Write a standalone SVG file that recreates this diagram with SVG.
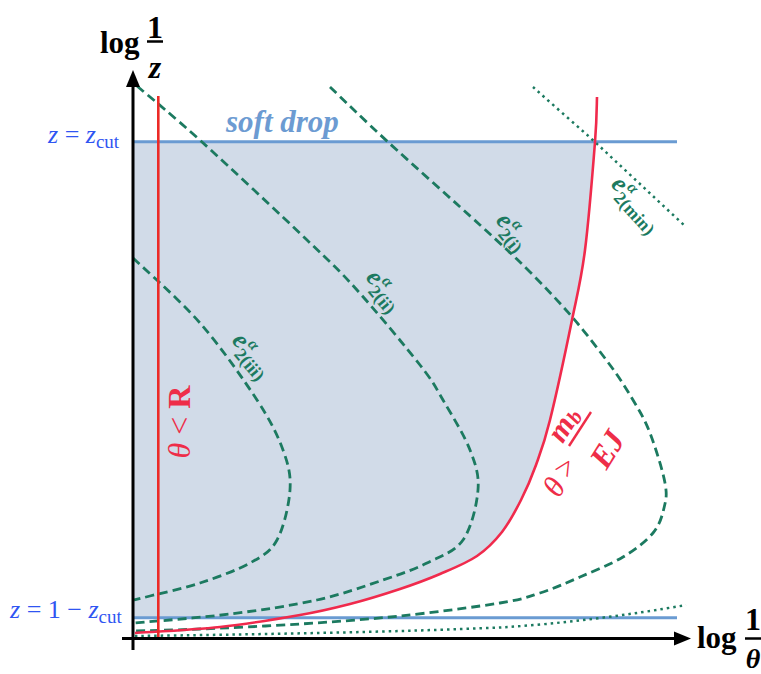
<svg xmlns="http://www.w3.org/2000/svg" width="761" height="674" viewBox="0 0 761 674">
<style>
.ax{stroke:#000;stroke-width:3;fill:none}
.blue{stroke:#6a9bd2;stroke-width:3;fill:none}
.dash{stroke:#1c7a60;stroke-width:2.8;fill:none;stroke-dasharray:9 5}
.dot{stroke:#1c7a60;stroke-width:2.5;fill:none;stroke-dasharray:2.5 4}
.redc{stroke:#f02a4c;stroke-width:2.6;fill:none}
.redv{stroke:#ec2a26;stroke-width:2.6;fill:none}
.axl{font-family:"Liberation Serif",serif;font-weight:bold;fill:#000}
.bl{font-family:"Liberation Serif",serif;fill:#2f55f2;font-size:26px}
.gl{font-family:"Liberation Serif",serif;fill:#1c7a60;font-weight:bold}
.rl{font-family:"Liberation Serif",serif;fill:#ee2d48}
</style>
<g id="region">
<path d="M133 142 L595 142 C593,167.5 588.8,220.3 585,250 C581.2,279.7 577.8,291.7 572,320 C566.2,348.3 556,395.8 550,420 C544,444.2 540.8,451.7 536,465 C531.2,478.3 526.7,488.8 521,500 C515.3,511.2 509.3,522.7 502,532 C494.7,541.3 487.3,549 477,556 C466.7,563 452.8,568.5 440,574 C427.2,579.5 415,584 400,589 C385,594 366.7,599.7 350,604 C333.3,608.3 321.7,611.2 300,615 L281 618 L133 618 Z" fill="#d1dbe8"/>
</g>
<g id="connectors">
<line class="blue" x1="133" y1="141.7" x2="677" y2="141.7"/>
<line class="blue" x1="133" y1="617.7" x2="677" y2="617.7"/>
<path class="dash" d="M133,258 C144.2,268.8 179.3,299.3 200,323 C220.7,346.7 243.2,378.8 257,400 C270.8,421.2 277.5,435 283,450 C288.5,465 291,475 290,490 C289,505 283.7,527.8 277,540 C270.3,552.2 262.8,555.8 250,563 C237.2,570.2 216.7,577.5 200,583 C183.3,588.5 161,593.2 150,596 C139,598.8 136.7,599.3 134,600"/>
<path class="dash" d="M137,86 C147.8,95.3 173.7,116.3 202,142 C230.3,167.7 281.2,215.3 307,240 C332.8,264.7 338.2,269.2 357,290 C375.8,310.8 405.7,346.7 420,365 C434.3,383.3 434.7,385.8 443,400 C451.3,414.2 464.2,435 470,450 C475.8,465 479.2,475 478,490 C476.8,505 471.5,527.8 463,540 C454.5,552.2 440.3,556.3 427,563 C413.7,569.7 401.3,573.8 383,580 C364.7,586.2 342.5,594.3 317,600 C291.5,605.7 260.3,610.2 230,614 C199.7,617.8 150.8,621.5 135,623"/>
<path class="dash" d="M330,87 C339.7,96.2 363,119 388,142 C413,165 456.3,203.3 480,225 C503.7,246.7 514.5,256.5 530,272 C545.5,287.5 559.7,302.5 573,318 C586.3,333.5 599.8,351.3 610,365 C620.2,378.7 626.3,388.7 633,400 C639.7,411.3 644.7,419.2 650,433 C655.3,446.8 662.7,470.5 665,483 C667.3,495.5 666,499.7 664,508 C662,516.3 659.8,524.8 653,533 C646.2,541.2 635.2,549.7 623,557 C610.8,564.3 593.8,571 580,577 C566.2,583 553.3,588.7 540,593 C526.7,597.3 523.3,599.2 500,603 C476.7,606.8 433.3,612.5 400,616 C366.7,619.5 333.3,621.8 300,624 C266.7,626.2 227.5,627.8 200,629 C172.5,630.2 145.8,630.7 135,631"/>
<path class="dot" d="M533,87 C553,105 575,124 595,142 C625,170 655,198 686,227"/>
<path class="dot" d="M135,636 C250,634.5 400,632 500,627.5 C560,624 630,615 686,605"/>
<path class="redc" d="M597,97 C596.7,104.5 597,116.5 595,142 C593,167.5 588.8,220.3 585,250 C581.2,279.7 577.8,291.7 572,320 C566.2,348.3 556,395.8 550,420 C544,444.2 540.8,451.7 536,465 C531.2,478.3 526.7,488.8 521,500 C515.3,511.2 509.3,522.7 502,532 C494.7,541.3 487.3,549 477,556 C466.7,563 452.8,568.5 440,574 C427.2,579.5 415,584 400,589 C385,594 366.7,599.7 350,604 C333.3,608.3 321.7,611.2 300,615 C278.3,618.8 247.5,624 220,627 C192.5,630 149.2,632 135,633"/>
<line class="redv" x1="158.3" y1="96" x2="158.3" y2="639"/>
</g>
<g id="axes">
<line class="ax" x1="133" y1="650" x2="133" y2="84"/>
<polygon points="133,70 126,87 140,87" fill="#000"/>
<line class="ax" x1="122" y1="638.5" x2="678" y2="638.5"/>
<polygon points="691,638.5 674,631.5 674,645.5" fill="#000"/>
</g>
<g id="ylabel">
<text class="axl" x="100" y="53" font-size="31">log</text>
<text class="axl" x="155" y="38" font-size="32" text-anchor="middle">1</text>
<line x1="147" y1="41.5" x2="163" y2="41.5" stroke="#000" stroke-width="2.5"/>
<text class="axl" x="155" y="78" font-size="32" text-anchor="middle" font-style="italic">z</text>
</g>
<g id="xlabel">
<text class="axl" x="697" y="648" font-size="31">log</text>
<text class="axl" x="753" y="630" font-size="32" text-anchor="middle">1</text>
<line x1="745" y1="638.5" x2="761" y2="638.5" stroke="#000" stroke-width="2.5"/>
<text class="axl" x="753" y="668" font-size="28" text-anchor="middle" font-style="italic" font-weight="normal">θ</text>
</g>
<g id="zcut">
<text class="bl" x="48" y="143"><tspan font-style="italic">z</tspan> = <tspan font-style="italic">z</tspan><tspan font-size="19" dy="5">cut</tspan></text>
</g>
<g id="z1cut">
<text class="bl" x="10" y="618"><tspan font-style="italic">z</tspan> = 1 − <tspan font-style="italic">z</tspan><tspan font-size="19" dy="5">cut</tspan></text>
</g>
<g id="softdrop">
<text x="226" y="132" font-family="Liberation Serif, serif" font-size="31" font-weight="bold" font-style="italic" fill="#6c9bd2">soft drop</text>
</g>
<g id="lbl-iii" transform="translate(231,341) rotate(50)">
<text class="gl" font-size="26" font-style="italic">e</text>
<text class="gl" x="12" y="7" font-size="18">2(iii)</text>
<text class="gl" x="13" y="-10" font-size="16" font-style="italic" font-weight="normal">α</text>
</g>
<g id="lbl-ii" transform="translate(365,278) rotate(50)">
<text class="gl" font-size="26" font-style="italic">e</text>
<text class="gl" x="12" y="7" font-size="18">2(ii)</text>
<text class="gl" x="13" y="-10" font-size="16" font-style="italic" font-weight="normal">α</text>
</g>
<g id="lbl-i" transform="translate(495,221) rotate(50)">
<text class="gl" font-size="26" font-style="italic">e</text>
<text class="gl" x="12" y="7" font-size="18">2(i)</text>
<text class="gl" x="13" y="-10" font-size="16" font-style="italic" font-weight="normal">α</text>
</g>
<g id="lbl-min" transform="translate(610,185) rotate(48)">
<text class="gl" font-size="26" font-style="italic">e</text>
<text class="gl" x="12" y="7" font-size="18">2(min)</text>
<text class="gl" x="13" y="-10" font-size="16" font-style="italic" font-weight="normal">α</text>
</g>
<g id="lbl-R">
<text class="rl" transform="translate(190,422) rotate(-90)" font-size="32" text-anchor="middle"><tspan font-style="italic">θ</tspan> &lt; <tspan font-weight="bold">R</tspan></text>
</g>
<g id="lbl-mb">
<text class="rl" transform="translate(554,487) rotate(-58)" font-size="31" text-anchor="middle" dominant-baseline="central" font-style="italic">θ</text>
<text class="rl" transform="translate(565,467) rotate(-58)" font-size="31" text-anchor="middle" dominant-baseline="central">&gt;</text>
<text class="rl" transform="translate(563,424) rotate(-58)" font-size="31" text-anchor="middle" dominant-baseline="central" font-weight="bold" font-style="italic">m<tspan font-size="21" dy="6">b</tspan></text>
<line x1="569" y1="446" x2="591" y2="412" stroke="#ee2d48" stroke-width="2.4"/>
<text class="rl" transform="translate(607,449) rotate(-58)" font-size="32" text-anchor="middle" dominant-baseline="central" font-weight="bold" font-style="italic">EJ</text>
</g>
</svg>
